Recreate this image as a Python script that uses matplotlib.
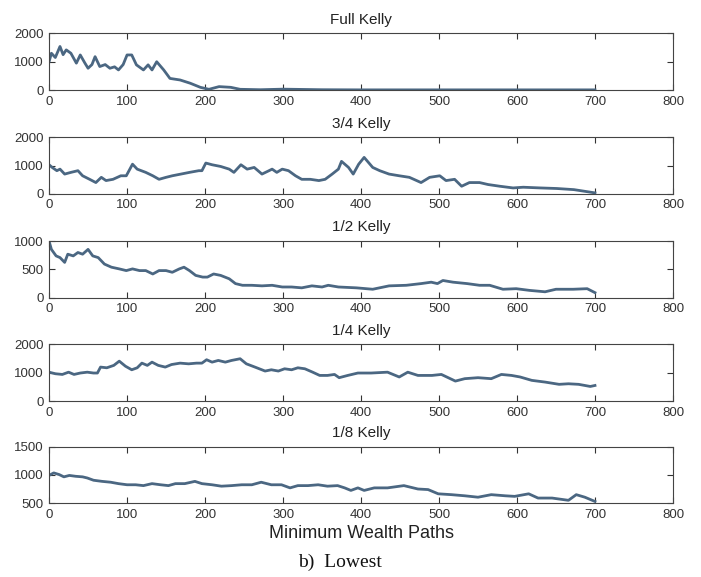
import matplotlib
matplotlib.use('Agg')
import matplotlib.pyplot as plt

# values (step, wealth)
full_x = [0, 3, 8, 14, 18, 22, 28, 35, 40, 46, 50, 55, 59, 65, 72, 78, 84, 89, 95, 100, 106, 112,
          121, 127, 132, 138, 147, 155, 168, 181, 194, 205, 218, 233, 245, 271, 300, 350, 400,
          500, 600, 700]
full_y = [1000, 1300, 1150, 1540, 1250, 1420, 1300, 950, 1240, 950, 770, 900, 1180, 830, 900, 770,
          820, 710, 900, 1240, 1240, 890, 710, 890, 710, 1000, 710, 410, 355, 240, 95, 25, 120,
          95, 25, 10, 30, 10, 5, 5, 5, 5]

k34_x = [0, 4, 10, 14, 20, 28, 37, 43, 52, 60, 67, 73, 82, 92, 99, 107, 113, 124, 133, 141, 150,
         158, 169, 180, 192, 196, 201, 209, 220, 231, 237, 246, 254, 263, 273, 282, 286, 292, 299,
         307, 316, 324, 335, 346, 354, 363, 371, 375, 384, 390, 397, 404, 415, 424, 436, 449, 462,
         477, 488, 501, 509, 520, 529, 539, 552, 563, 578, 595, 608, 630, 651, 673, 700]
k34_y = [1030, 935, 820, 875, 700, 760, 820, 640, 515, 400, 585, 470, 515, 640, 640, 1050, 875,
         760, 640, 515, 585, 640, 700, 760, 820, 820, 1090, 1030, 970, 875, 760, 1030, 875, 935,
         700, 820, 875, 760, 875, 820, 640, 515, 515, 470, 515, 700, 875, 1150, 935, 700, 1050,
         1290, 935, 820, 700, 640, 585, 400, 585, 640, 470, 515, 270, 400, 400, 330, 270, 210,
         235, 210, 190, 150, 35]

k12_x = [0, 3, 9, 14, 20, 24, 31, 37, 43, 50, 56, 63, 71, 80, 90, 99, 107, 116, 124, 133, 141,
         150, 158, 167, 173, 180, 188, 197, 203, 211, 220, 231, 239, 248, 260, 273, 286, 299, 311,
         324, 337, 350, 358, 371, 394, 415, 436, 458, 477, 490, 498, 505, 518, 536, 552, 565, 582,
         599, 616, 636, 650, 672, 690, 700]
k12_y = [1000, 855, 740, 710, 625, 770, 740, 800, 770, 855, 740, 710, 595, 540, 510, 480, 510,
         480, 480, 420, 480, 480, 450, 510, 540, 480, 395, 365, 365, 420, 395, 335, 250, 220, 220,
         210, 220, 190, 190, 175, 210, 190, 220, 190, 175, 150, 210, 220, 250, 275, 250, 305, 275,
         250, 220, 220, 150, 160, 130, 105, 150, 150, 160, 90]

k14_x = [0, 8, 17, 25, 32, 40, 49, 57, 62, 66, 74, 83, 90, 98, 106, 113, 119, 126, 132, 140, 149,
         157, 168, 179, 189, 196, 202, 209, 217, 226, 234, 245, 253, 264, 277, 285, 294, 302, 311,
         319, 328, 338, 347, 357, 366, 372, 383, 396, 413, 434, 449, 460, 473, 491, 503, 521, 533,
         550, 567, 580, 593, 604, 619, 636, 654, 666, 679, 694, 700]
k14_y = [1020, 965, 940, 1020, 940, 990, 1020, 990, 990, 1200, 1175, 1260, 1410, 1230, 1105,
         1175, 1340, 1260, 1375, 1260, 1200, 1290, 1340, 1315, 1340, 1340, 1460, 1375, 1435, 1375,
         1435, 1495, 1315, 1200, 1060, 1105, 1060, 1140, 1105, 1175, 1140, 1020, 905, 905, 940,
         825, 905, 990, 990, 1020, 850, 1020, 905, 905, 940, 705, 790, 825, 790, 940, 905, 850,
         730, 670, 590, 610, 590, 515, 550]

k18_x = [0, 6, 13, 19, 26, 34, 43, 49, 57, 68, 79, 89, 100, 111, 121, 132, 143, 153, 162, 174,
         187, 196, 209, 221, 234, 247, 260, 272, 285, 298, 309, 319, 332, 345, 357, 370, 379, 387,
         396, 404, 417, 434, 455, 473, 486, 499, 516, 533, 550, 567, 585, 597, 615, 627, 645, 666,
         676, 687, 700]
k18_y = [990, 1035, 1005, 965, 990, 975, 965, 945, 905, 885, 870, 845, 825, 825, 810, 845, 825,
         810, 845, 845, 885, 845, 825, 800, 810, 825, 825, 870, 825, 825, 770, 810, 810, 825, 800,
         810, 770, 725, 770, 725, 770, 770, 810, 750, 740, 665, 650, 630, 605, 650, 630, 620, 665,
         590, 590, 550, 650, 605, 530]

titles = ['Full Kelly', '3/4 Kelly', '1/2 Kelly', '1/4 Kelly', '1/8 Kelly']
xs = [full_x, k34_x, k12_x, k14_x, k18_x]
ys = [full_y, k34_y, k12_y, k14_y, k18_y]
yticks = [[0, 1000, 2000], [0, 1000, 2000], [0, 500, 1000], [0, 1000, 2000], [500, 1000, 1500]]
bottoms = [0.844, 0.664, 0.484, 0.305, 0.128]

plt.rcParams['font.family'] = ['Liberation Sans', 'DejaVu Sans']
fig = plt.figure(figsize=(7.01, 5.77), dpi=100)

line_col = '#4b6782'
for i in range(5):
    ax = fig.add_axes([0.070, bottoms[i], 0.890, 0.098])
    ax.plot(xs[i], ys[i], color=line_col, lw=2.0)
    ax.set_xlim(0, 800)
    ax.set_ylim(yticks[i][0], yticks[i][-1])
    ax.set_xticks(range(0, 900, 100))
    ax.set_yticks(yticks[i])
    ax.tick_params(direction='in', top=True, right=True, labelsize=9.5, length=4,
                   width=0.8, colors='#333333', pad=4)
    for s in ax.spines.values():
        s.set_linewidth(0.8)
        s.set_color('#444444')
    ax.set_title(titles[i], fontsize=11, pad=7, color='#222222')
    if i == 4:
        ax.set_xlabel('Minimum Wealth Paths', fontsize=13, labelpad=3, color='#222222')

fig.text(0.485, 0.018, 'b)  Lowest', fontsize=14, family='Liberation Serif', ha='center',
         color='#111111')

fig.savefig('out.png', dpi=100)
